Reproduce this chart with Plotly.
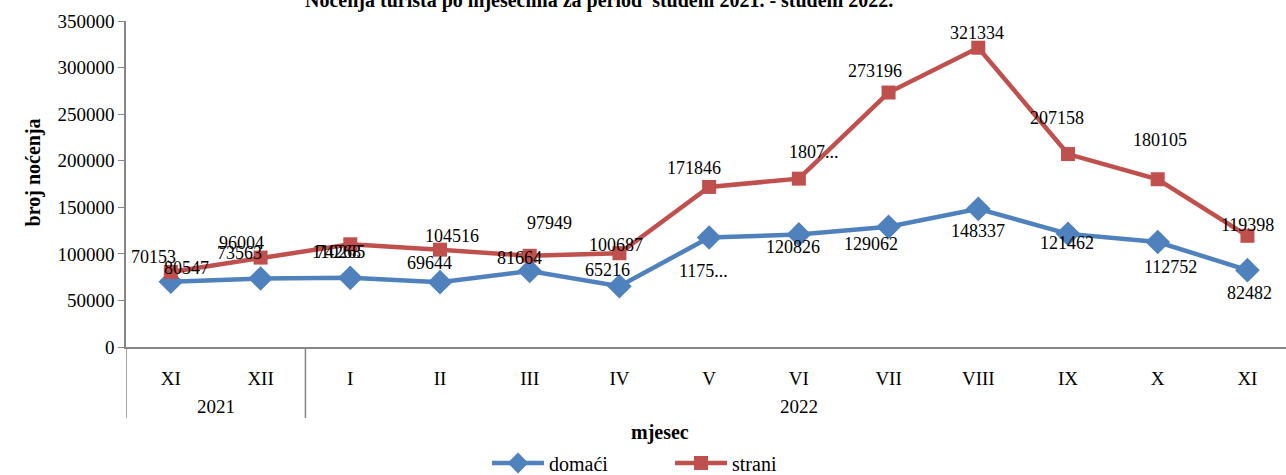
import plotly.graph_objects as go

months = ["XI", "XII", "I", "II", "III", "IV", "V", "VI", "VII", "VIII", "IX", "X", "XI"]
years = ["2021", "2021", "2022", "2022", "2022", "2022", "2022", "2022", "2022", "2022", "2022", "2022", "2022"]
domaci = [70153, 73563, 74268, 69644, 81664, 65216, 117541, 120826, 129062, 148337, 121462, 112752, 82482]
strani = [80547, 96004, 110265, 104516, 97949, 100687, 171846, 180742, 273196, 321334, 207158, 180105, 119398]
truncated_domaci = [6]
truncated_strani = [7]

# label offsets (px) as they sit in the original picture
off_domaci = [(-17, -25), (-21, -25), (-12, -26), (-11, -19), (-10, -13), (-12, -16),
              (-6, 33), (-6, 13), (-18, 17), (0, 22), (-1, 9), (13, 25), (2, 23)]
off_strani = [(16, -4), (-19, -15), (-12, 8), (12, -14), (20, -33), (-3, -8),
              (-15, -19), (15, -27), (-14, -22), (-1, -15), (-11, -36), (2, -39), (0, -11)]

BLUE = "#4F81BD"
RED = "#C0504D"
FONT = "Liberation Serif"
xs = list(range(len(months)))

fig = go.Figure()
fig.add_trace(go.Scatter(x=xs, y=domaci, name="domaći", mode="lines+markers",
                         line=dict(color=BLUE, width=4.5),
                         marker=dict(symbol="diamond", size=19, color=BLUE)))
fig.add_trace(go.Scatter(x=xs, y=strani, name="strani", mode="lines+markers",
                         line=dict(color=RED, width=4.5),
                         marker=dict(symbol="square", size=14, color=RED)))

ann = []
def lab(v, trunc):
    s = str(v)
    return s[:4] + "..." if trunc else s

for i, v in enumerate(domaci):
    dx, dy = off_domaci[i]
    ann.append(dict(x=i, y=v, xref="x", yref="y", text=lab(v, i in truncated_domaci),
                    showarrow=False, xshift=dx, yshift=-dy,
                    font=dict(family=FONT, size=18, color="black")))
for i, v in enumerate(strani):
    dx, dy = off_strani[i]
    ann.append(dict(x=i, y=v, xref="x", yref="y", text=lab(v, i in truncated_strani),
                    showarrow=False, xshift=dx, yshift=-dy,
                    font=dict(family=FONT, size=18, color="black")))

# year group labels and dividers
groups = []
for i, yv in enumerate(years):
    if not groups or groups[-1][0] != yv:
        groups.append([yv, i, i])
    else:
        groups[-1][2] = i
shapes = []
for g in groups:
    ann.append(dict(x=(g[1] + g[2]) / 2, y=-0.184, xref="x", yref="paper", text=g[0],
                    showarrow=False, yanchor="middle",
                    font=dict(family=FONT, size=19, color="black")))
    shapes.append(dict(type="line", xref="x", yref="paper", x0=g[1] - 0.5, x1=g[1] - 0.5,
                       y0=0, y1=-0.218, line=dict(color="#868686", width=1.5)))

ann.append(dict(x=-0.0914, y=0.537, xref="paper", yref="paper", text="<b>broj noćenja</b>",
                textangle=-90, showarrow=False,
                font=dict(family=FONT, size=20, color="black")))
ann.append(dict(x=0.46, y=-0.261, xref="paper", yref="paper", text="<b>mjesec</b>",
                showarrow=False, yanchor="middle",
                font=dict(family=FONT, size=20, color="black")))
ann.append(dict(x=0.408, y=1.062, xref="paper", yref="paper",
                text="<b>Noćenja turista po mjesecima za period  studeni 2021. - studeni 2022.</b>",
                showarrow=False, yanchor="middle",
                font=dict(family=FONT, size=20, color="black")))

fig.update_layout(
    width=1286, height=475,
    margin=dict(l=126, r=0, t=21, b=128, autoexpand=False),
    paper_bgcolor="white", plot_bgcolor="white",
    showlegend=True,
    legend=dict(orientation="h", xref="container", yref="container",
                x=0.3787, y=0.0253, xanchor="left", yanchor="middle",
                font=dict(family=FONT, size=20, color="black"), entrywidth=116,
                itemwidth=52),
    annotations=ann, shapes=shapes,
)
fig.update_xaxes(range=[-0.5, 12.43], tickvals=xs, ticktext=months, showgrid=False,
                 showline=True, linecolor="#868686", linewidth=1.5, ticks="",
                 ticklabelstandoff=13, zeroline=False,
                 tickfont=dict(family=FONT, size=19, color="black"))
fig.update_yaxes(range=[0, 350000], dtick=50000, showgrid=False, showline=True,
                 linecolor="#868686", linewidth=1.5, ticks="outside", ticklen=6,
                 tickcolor="#868686", zeroline=False, tickformat="d",
                 tickfont=dict(family=FONT, size=19, color="black"))

post = ("document.body.style.margin='0';document.body.style.overflow='hidden';"
        "document.documentElement.style.overflow='hidden';"
        "var gd=document.querySelector('.plotly-graph-div');"
        "gd.style.position='absolute';gd.style.top='0px';gd.style.left='0px';")
fig.write_html("out.html", post_script=post, config={"displayModeBar": False})
